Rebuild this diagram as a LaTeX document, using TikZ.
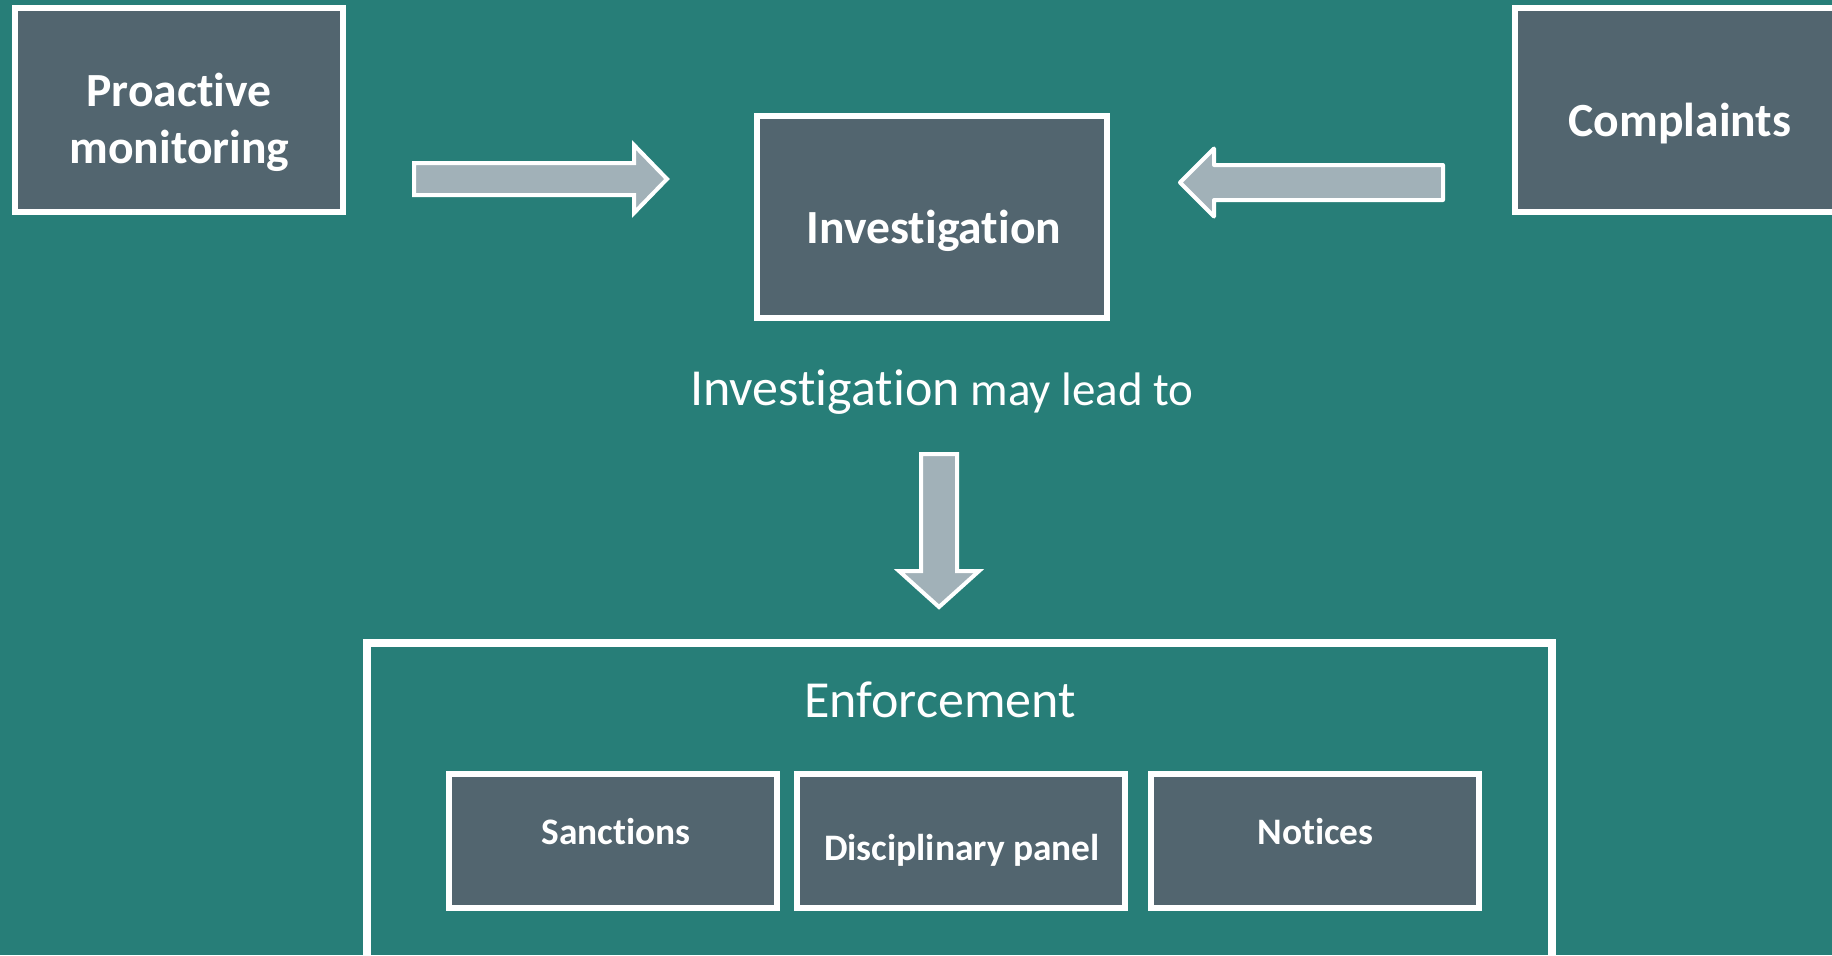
\documentclass[tikz,border=0pt]{standalone}
\usepackage{fontspec}
\setmainfont{Carlito}[Ligatures={NoCommon,NoRare,NoContextual}]
\usetikzlibrary{calc}

\definecolor{bgteal}{HTML}{277E78}
\definecolor{slatefill}{HTML}{52656F}
\definecolor{arrowgrey}{HTML}{A1B1B8}

% Block arrow from a tail point to a tip point:
% #2 tail, #3 tip, #4 half shaft width, #5 half head width, #6 head length
\newcommand{\drawblockarrow}[6][]{%
  \coordinate (ba-base) at ($(#3)!#6!(#2)$);
  \draw[blockarrow,#1]
    ($(#2)!#4!90:(#3)$) -- ($(ba-base)!#4!90:(#3)$) -- ($(ba-base)!#5!90:(#3)$)
    -- (#3)
    -- ($(ba-base)!#5!-90:(#3)$) -- ($(ba-base)!#4!-90:(#3)$) -- ($(#2)!#4!-90:(#3)$)
    -- cycle;
}

\tikzset{
  panel/.style={draw=white, line width=3pt, fill=slatefill, inner sep=0pt},
  frame/.style={draw=white, line width=4pt, inner sep=0pt},
  boldlabel/.style={text=white, inner sep=0pt, anchor=base,
    font=\bfseries\fontsize{23.8}{28}\selectfont},
  smalllabel/.style={text=white, inner sep=0pt, anchor=base,
    font=\bfseries\fontsize{18.7}{22}\selectfont},
  plainlabel/.style={text=white, inner sep=0pt, anchor=base},
  blockarrow/.style={draw=white, line width=2pt, fill=arrowgrey, line join=miter},
}

\begin{document}
\begin{tikzpicture}[x=0.5pt, y=-0.5pt]
  \useasboundingbox (0,0) rectangle (1832,955);
  \fill[bgteal] (0,0) rectangle (1832,955);
  \clip (0,0) rectangle (1832,955);

  % sources of an investigation
  \node[panel, minimum width=164pt, minimum height=102pt] (proactive) at (179,110) {};
  \node[boldlabel] (proactive-a) at (179,106) {Proactive};
  \node[boldlabel] (proactive-b) at (179.5,163) {monitoring};

  \node[panel, minimum width=165pt, minimum height=102pt] (complaints) at (1680,110) {};
  \node[boldlabel] (complaints-text) at (1680,136) {Complaints};

  \node[panel, minimum width=175pt, minimum height=101pt] (investigation) at (932,217) {};
  \node[boldlabel] (investigation-text) at (934,243) {Investigation};

  % arrows into the investigation
  \coordinate (rarrow-tail) at (414,179);
  \coordinate (rarrow-tip) at (667,179);
  \drawblockarrow{rarrow-tail}{rarrow-tip}{8pt}{17pt}{16.5pt}

  \coordinate (larrow-tail) at (1443,182.5);
  \coordinate (larrow-tip) at (1180,182.5);
  \drawblockarrow[line join=round]{larrow-tail}{larrow-tip}{8.75pt}{17pt}{17pt}

  % outcome
  \node[plainlabel] (leadto) at (942,405)
    {\fontsize{26}{30}\selectfont Investigation\fontsize{23.5}{28}\selectfont{} may lead to};

  \coordinate (darrow-tail) at (939,454);
  \coordinate (darrow-tip) at (939,607);
  \drawblockarrow{darrow-tail}{darrow-tip}{9pt}{20pt}{18pt}

  % enforcement options
  \node[frame, minimum width=592.5pt, minimum height=178.5pt] (enforcement) at (959.5,821.5) {};
  \node[plainlabel, font=\fontsize{26}{30}\selectfont] (enforcement-text) at (940,717) {Enforcement};

  \node[panel, minimum width=164pt, minimum height=67pt] (sanctions) at (613,841) {};
  \node[smalllabel] (sanctions-text) at (616,844) {Sanctions};

  \node[panel, minimum width=164pt, minimum height=67pt] (panel) at (961,841) {};
  \node[smalllabel] (panel-text) at (962,860) {Disciplinary panel};

  \node[panel, minimum width=164pt, minimum height=67pt] (notices) at (1315,841) {};
  \node[smalllabel] (notices-text) at (1315.5,844) {Notices};
\end{tikzpicture}
\end{document}
